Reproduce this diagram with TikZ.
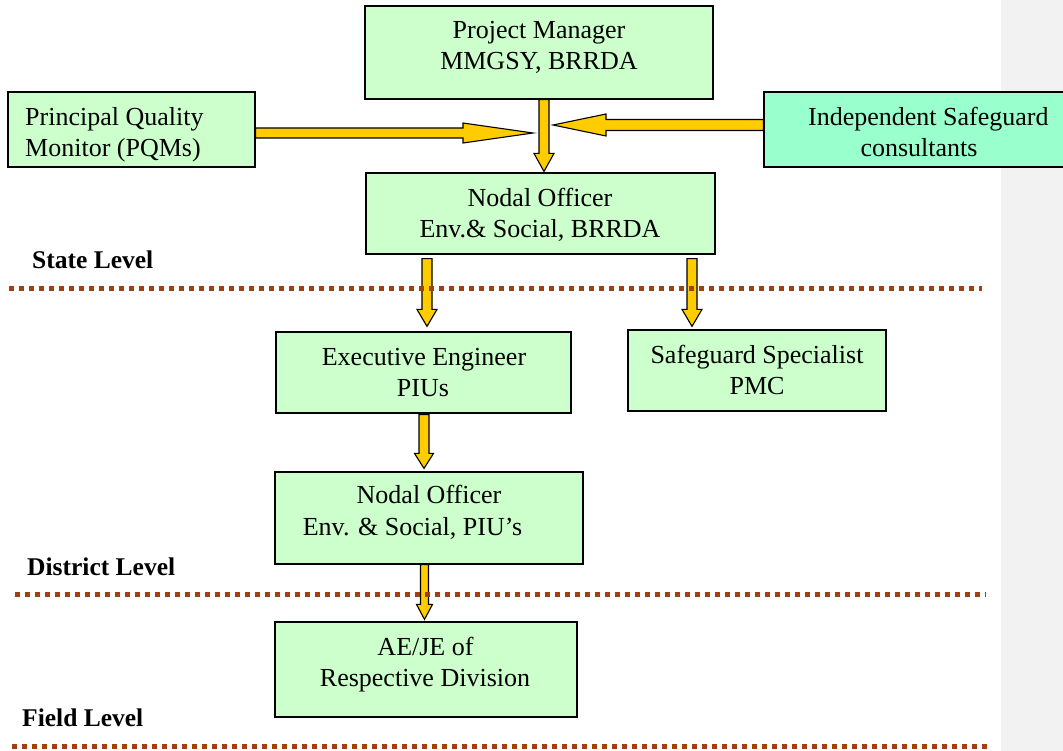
\documentclass[tikz,border=0pt]{standalone}
\usepackage{fontspec}
\setmainfont{Liberation Serif}
\usetikzlibrary{calc}
\definecolor{boxgreen}{HTML}{CCFFCC}
\definecolor{boxaqua}{HTML}{99FFCC}
\definecolor{arrowyellow}{HTML}{FFCC00}
\definecolor{dotbrown}{HTML}{A0400F}
\definecolor{stripgrey}{HTML}{F2F2F2}
\tikzset{
  box/.style={draw=black, fill=boxgreen, line width=1.2pt, inner sep=0pt},
  txt/.style={font=\fontsize{26}{31}\selectfont, inner sep=0pt, anchor=base},
  txtw/.style={font=\fontsize{26}{31}\selectfont, inner sep=0pt, anchor=base west},
  lvl/.style={font=\fontsize{25.5}{31}\selectfont\bfseries, inner sep=0pt, anchor=base west},
  flowarrow/.style={draw=black, fill=arrowyellow, line width=1.1pt, line join=miter},
  dotline/.style={draw=dotbrown, line width=5pt, dash pattern=on 5pt off 5pt}
}
\newcommand\blockarr[5]{%
  \coordinate (ba1) at (#1);
  \coordinate (ba2) at (#2);
  \coordinate (bac) at ($(ba2)!#5!(ba1)$);
  \filldraw[flowarrow] ($(ba1)!#3!90:(ba2)$) -- ($(bac)!#3!90:(ba2)$) -- ($(bac)!#4!90:(ba2)$) -- (ba2) -- ($(bac)!#4!-90:(ba2)$) -- ($(bac)!#3!-90:(ba2)$) -- ($(ba1)!#3!-90:(ba2)$) -- cycle;
}
\begin{document}
\begin{tikzpicture}[x=1pt,y=-1pt]
\useasboundingbox (0,0) rectangle (1063,751);
\clip (0,0) rectangle (1063,751);
\fill[white] (0,0) rectangle (1063,751);
\fill[stripgrey] (1001,0) rectangle (1063,751);

% boxes
\node[box, minimum width=348pt, minimum height=93pt] (pm) at (539,52.5) {};
\node[box, minimum width=247pt, minimum height=75pt] (pqm) at (131.5,129.5) {};
\node[box, fill=boxaqua, minimum width=316pt, minimum height=75pt] (isc) at (922,129.5) {};
\node[box, minimum width=349pt, minimum height=81pt] (nob) at (540.5,213.5) {};
\node[box, minimum width=295pt, minimum height=81pt] (ee) at (423.5,372.5) {};
\node[box, minimum width=258pt, minimum height=81pt] (ss) at (757,370.5) {};
\node[box, minimum width=308pt, minimum height=92pt] (nop) at (429,518) {};
\node[box, minimum width=302pt, minimum height=95pt] (ae) at (426,669.5) {};

% texts
\node[txt] (pm1) at (539,39) {Project Manager};
\node[txt] (pm2) at (539,70) {MMGSY, BRRDA};
\node[txtw] (pqm1) at (25,126) {Principal Quality};
\node[txtw] (pqm2) at (25,157) {Monitor (PQMs)};
\node[txtw] (isc1) at (808,126) {Independent Safeguard};
\node[txt] (isc2) at (919,157) {consultants};
\node[txt] (nob1) at (540,207) {Nodal Officer};
\node[txt] (nob2) at (540,238) {Env.\& Social, BRRDA};
\node[txt] (ee1) at (424,365) {Executive Engineer};
\node[txt] (ee2) at (423,396) {PIUs};
\node[txt] (ss1) at (757,363) {Safeguard Specialist};
\node[txt] (ss2) at (757,394) {PMC};
\node[txt] (nop1) at (429,503) {Nodal Officer};
\node[txt] (nop2) at (412.5,535) {Env. \& Social, PIU’s};
\node[txt] (ae1) at (425.5,655) {AE/JE of};
\node[txt] (ae2) at (425,686) {Respective Division};
\node[lvl] (lv1) at (32,269) {State Level};
\node[lvl] (lv2) at (27,575) {District Level};
\node[lvl] (lv3) at (22,726) {Field Level};

% free arrow ends
\coordinate (pqmtip) at (533,133);
\coordinate (isctip) at (553,125);

% arrows
\blockarr{$(pqm.east)+(0,3.5)$}{pqmtip}{5pt}{10pt}{70pt}
\blockarr{$(isc.west)+(0,-4.5)$}{isctip}{5.5pt}{11pt}{53pt}
\blockarr{$(pm.south)+(5,0)$}{$(nob.north)+(3.5,-1)$}{5pt}{10pt}{18pt}
\blockarr{$(nob.south)+(-113.5,4)$}{$(ee.north)+(3.5,-5)$}{5pt}{10pt}{17pt}
\blockarr{$(nob.south)+(151.5,4)$}{$(ss.north)+(-65,-3)$}{5pt}{10pt}{17pt}
\blockarr{$(ee.south)+(0.5,1)$}{$(nop.north)+(-5,-3)$}{5pt}{9.5pt}{15pt}
\blockarr{$(nop.south)+(-4.5,0)$}{$(ae.north)+(-1.5,-2)$}{4pt}{8pt}{15pt}

% level separators
\draw[dotline] (9,289) -- (982,289);
\draw[dotline] (15,594) -- (986,594);
\draw[dotline] (12,746) -- (988,746);
\end{tikzpicture}
\end{document}
